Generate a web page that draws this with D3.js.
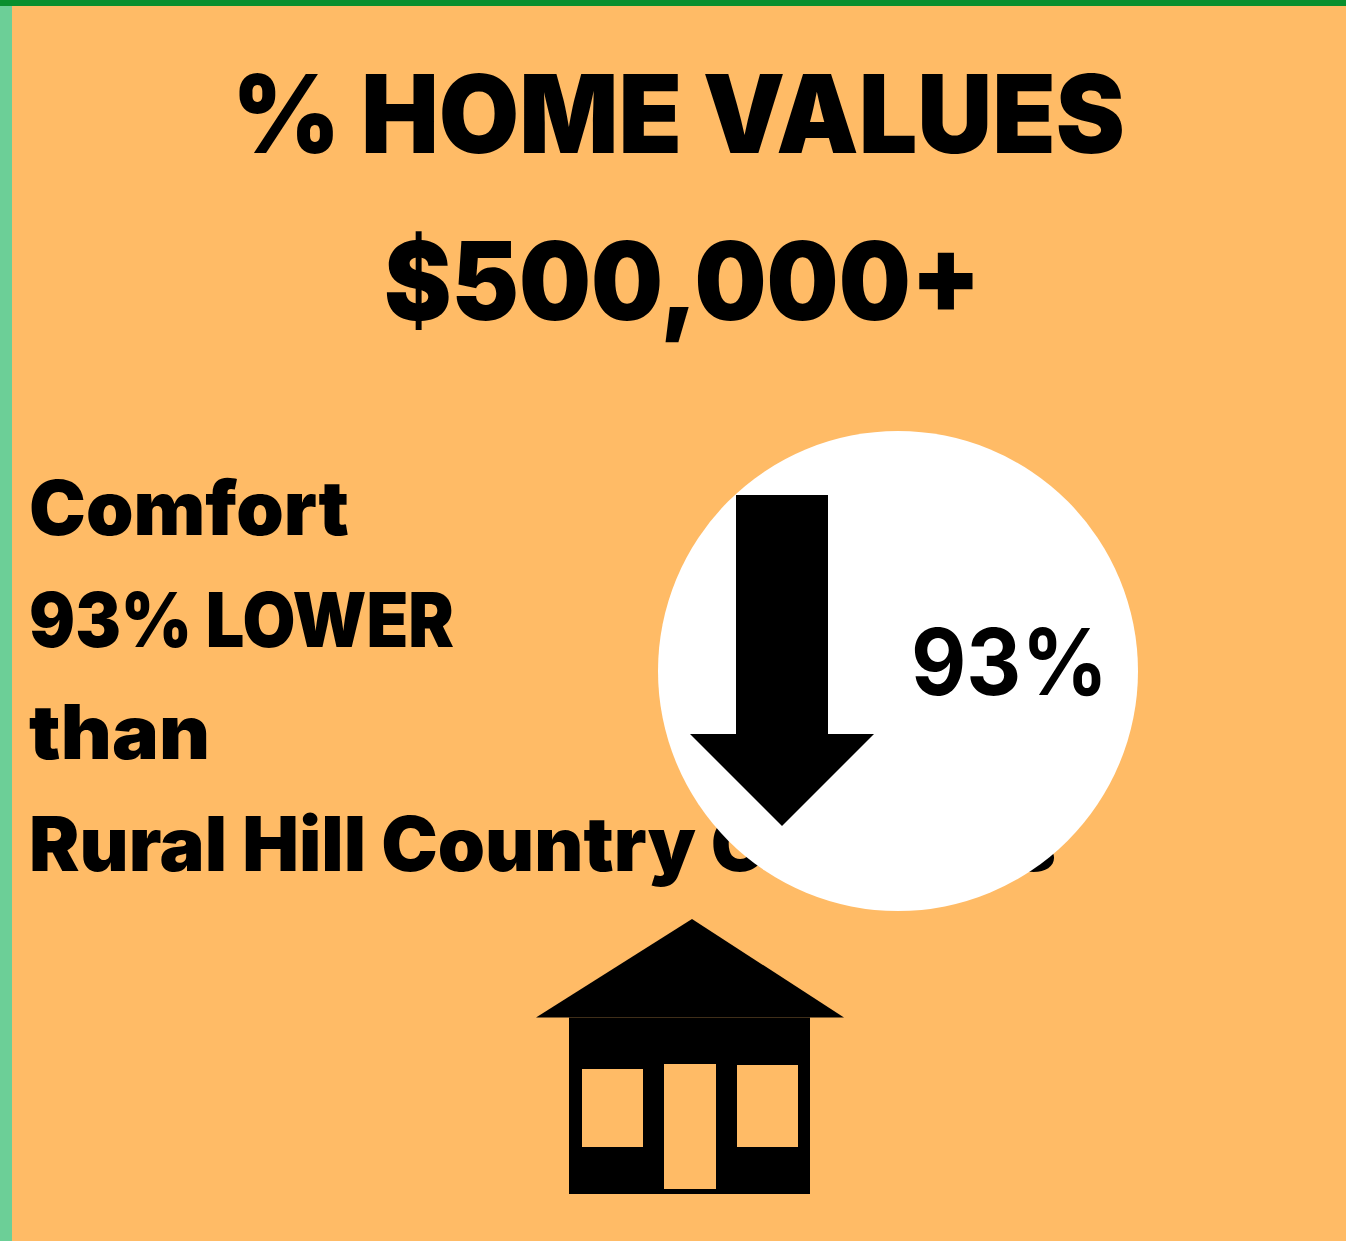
<!DOCTYPE html>
<html>
<head>
  <meta charset="utf-8">
  <script src="https://d3js.org/d3.v7.min.js"></script>
  <style>
    html, body { margin: 0; padding: 0; background: #ffbb66; }
    svg { display: block; }
    text { font-family: Inter, "Open Sans", sans-serif; fill: #000; }
  </style>
</head>
<body>
<script>
  // values
  var titleLines = ["% HOME VALUES", "$500,000+"];
  var labelLines = ["Comfort", "93% LOWER", "than", "Rural Hill Country Counties"];
  var percentLower = 93;

  var width = 1346, height = 1241;

  var svg = d3.select("body").append("svg")
      .attr("width", width)
      .attr("height", height);

  // background and the two edge strips
  svg.append("rect").attr("width", width).attr("height", height).attr("fill", "#ffbb66");
  svg.append("rect").attr("width", 12).attr("height", height).attr("fill", "#6ccf97");
  svg.append("rect").attr("width", width).attr("height", 6).attr("fill", "#0a8f2e");

  // title, stretched to the width of the original lettering
  var titleFit = [{x: 232, w: 893, y: 153}, {x: 384, w: 597, y: 320}];
  svg.selectAll("text.title")
    .data(titleLines)
    .enter()
    .append("text")
      .attr("class", "title")
      .attr("x", function (d, i) { return titleFit[i].x; })
      .attr("y", function (d, i) { return titleFit[i].y; })
      .attr("textLength", function (d, i) { return titleFit[i].w; })
      .attr("lengthAdjust", "spacingAndGlyphs")
      .style("font-size", "108px")
      .style("font-weight", 900)
      .text(function (d) { return d; });

  // left hand label, the circle is drawn over the end of it
  var labelWidths = [320, 425, 181, 1027];
  var labelY = d3.scaleLinear().domain([0, 3]).range([535, 871]);
  svg.selectAll("text.label")
    .data(labelLines)
    .enter()
    .append("text")
      .attr("class", "label")
      .attr("x", 29)
      .attr("y", function (d, i) { return labelY(i); })
      .attr("textLength", function (d, i) { return labelWidths[i]; })
      .attr("lengthAdjust", "spacingAndGlyphs")
      .style("font-size", "75px")
      .style("font-weight", 900)
      .text(function (d) { return d; });

  // white circle with the down arrow
  svg.append("circle")
      .attr("cx", 898)
      .attr("cy", 671)
      .attr("r", 240)
      .attr("fill", "#fff");

  var arrow = d3.path();
  arrow.moveTo(736, 495);
  arrow.lineTo(828, 495);
  arrow.lineTo(828, 734);
  arrow.lineTo(874, 734);
  arrow.lineTo(782, 826);
  arrow.lineTo(690, 734);
  arrow.lineTo(736, 734);
  arrow.closePath();
  svg.append("path").attr("d", arrow.toString()).attr("fill", "#000");

  svg.append("text")
      .attr("x", 911)
      .attr("y", 695)
      .attr("textLength", 197)
      .attr("lengthAdjust", "spacingAndGlyphs")
      .style("font-size", "92px")
      .style("font-weight", 700)
      .text(percentLower + "%");

  // house icon
  var house = svg.append("g");
  var roof = d3.path();
  roof.moveTo(692, 919);
  roof.lineTo(844, 1017.5);
  roof.lineTo(536, 1017.5);
  roof.closePath();
  house.append("path").attr("d", roof.toString()).attr("fill", "#000");
  house.append("rect").attr("x", 569).attr("y", 1017.5).attr("width", 241).attr("height", 176.5).attr("fill", "#000");
  house.append("rect").attr("x", 582).attr("y", 1069).attr("width", 61).attr("height", 78).attr("fill", "#ffbb66");
  house.append("rect").attr("x", 664).attr("y", 1064).attr("width", 52).attr("height", 125).attr("fill", "#ffbb66");
  house.append("rect").attr("x", 737).attr("y", 1065).attr("width", 61).attr("height", 82).attr("fill", "#ffbb66");
</script>
</body>
</html>
